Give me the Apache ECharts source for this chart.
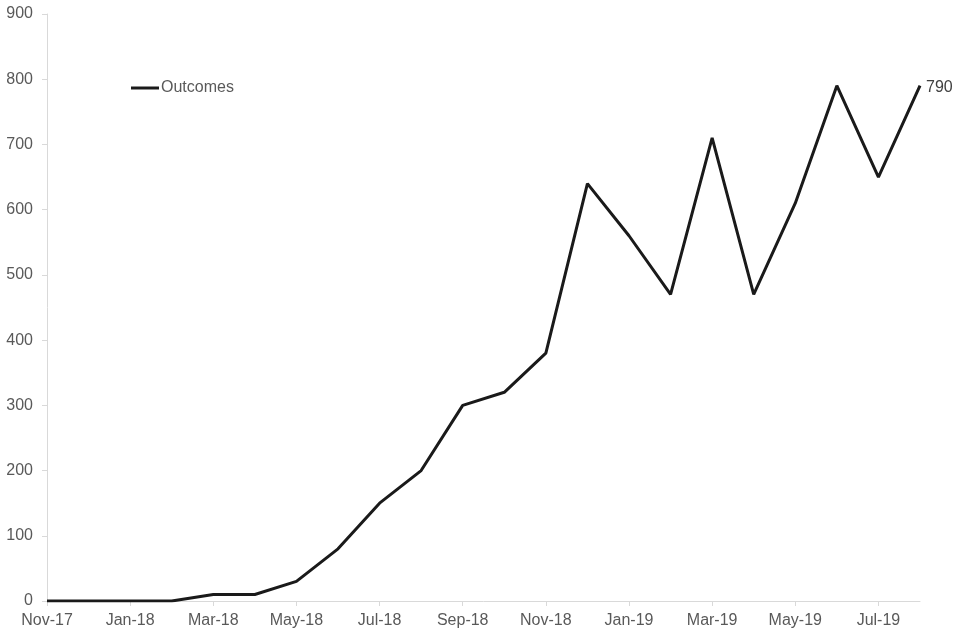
<!DOCTYPE html>
<html>
<head>
<meta charset="utf-8">
<script src="https://cdn.jsdelivr.net/npm/echarts@6/dist/echarts.min.js"></script>
<style>
  html, body { margin: 0; padding: 0; background: #fff; }
  #chart { width: 960px; height: 640px; }
</style>
</head>
<body>
<div id="chart"></div>
<script>
// months Nov-17 .. Aug-19
const months = ["Nov-17", "Dec-17", "Jan-18", "Feb-18", "Mar-18", "Apr-18", "May-18", "Jun-18",
  "Jul-18", "Aug-18", "Sep-18", "Oct-18", "Nov-18", "Dec-18", "Jan-19", "Feb-19",
  "Mar-19", "Apr-19", "May-19", "Jun-19", "Jul-19", "Aug-19"];
const outcomes = [0, 0, 0, 0, 10, 10, 30, 80, 150, 200, 300, 320, 380, 640, 560, 470,
  710, 470, 610, 790, 650, 790];
const yTicks = [0, 900, 100];

const chart = echarts.init(document.getElementById("chart"));
const fontFam = "'Liberation Sans', Arial, sans-serif";

chart.setOption({
  animation: false,
  backgroundColor: "#fff",
  textStyle: { fontFamily: fontFam },
  grid: { left: 47, right: 40, top: 14, bottom: 39 },
  legend: {
    left: 126, top: 75,
    itemWidth: 28, itemHeight: 3, itemGap: 4,
    icon: "rect",
    textStyle: { color: "#595959", fontSize: 16, fontFamily: fontFam, padding: [0, 0, 0, -3] },
    data: ["Outcomes"]
  },
  xAxis: {
    type: "category",
    data: months,
    boundaryGap: false,
    axisLine: { lineStyle: { color: "#d9d9d9", width: 1 } },
    axisTick: { show: true, interval: 1, length: 5, lineStyle: { color: "#d9d9d9" } },
    axisLabel: { interval: 1, color: "#595959", fontSize: 16, margin: 12, fontFamily: fontFam },
    splitLine: { show: false }
  },
  yAxis: {
    type: "value",
    min: yTicks[0], max: yTicks[1], interval: yTicks[2],
    axisLine: { show: true, lineStyle: { color: "#d9d9d9", width: 1 } },
    axisTick: { show: true, length: 5, lineStyle: { color: "#d9d9d9" } },
    axisLabel: { color: "#595959", fontSize: 16, margin: 14, fontFamily: fontFam },
    splitLine: { show: false }
  },
  series: [{
    name: "Outcomes",
    type: "line",
    data: outcomes,
    symbol: "none",
    lineStyle: { color: "#1a1a1a", width: 3 },
    itemStyle: { color: "#1a1a1a" },
    endLabel: {
      show: true, distance: 6, color: "#404040", fontSize: 16, fontFamily: fontFam,
      offset: [0, 2]
    }
  }]
});
</script>
</body>
</html>
